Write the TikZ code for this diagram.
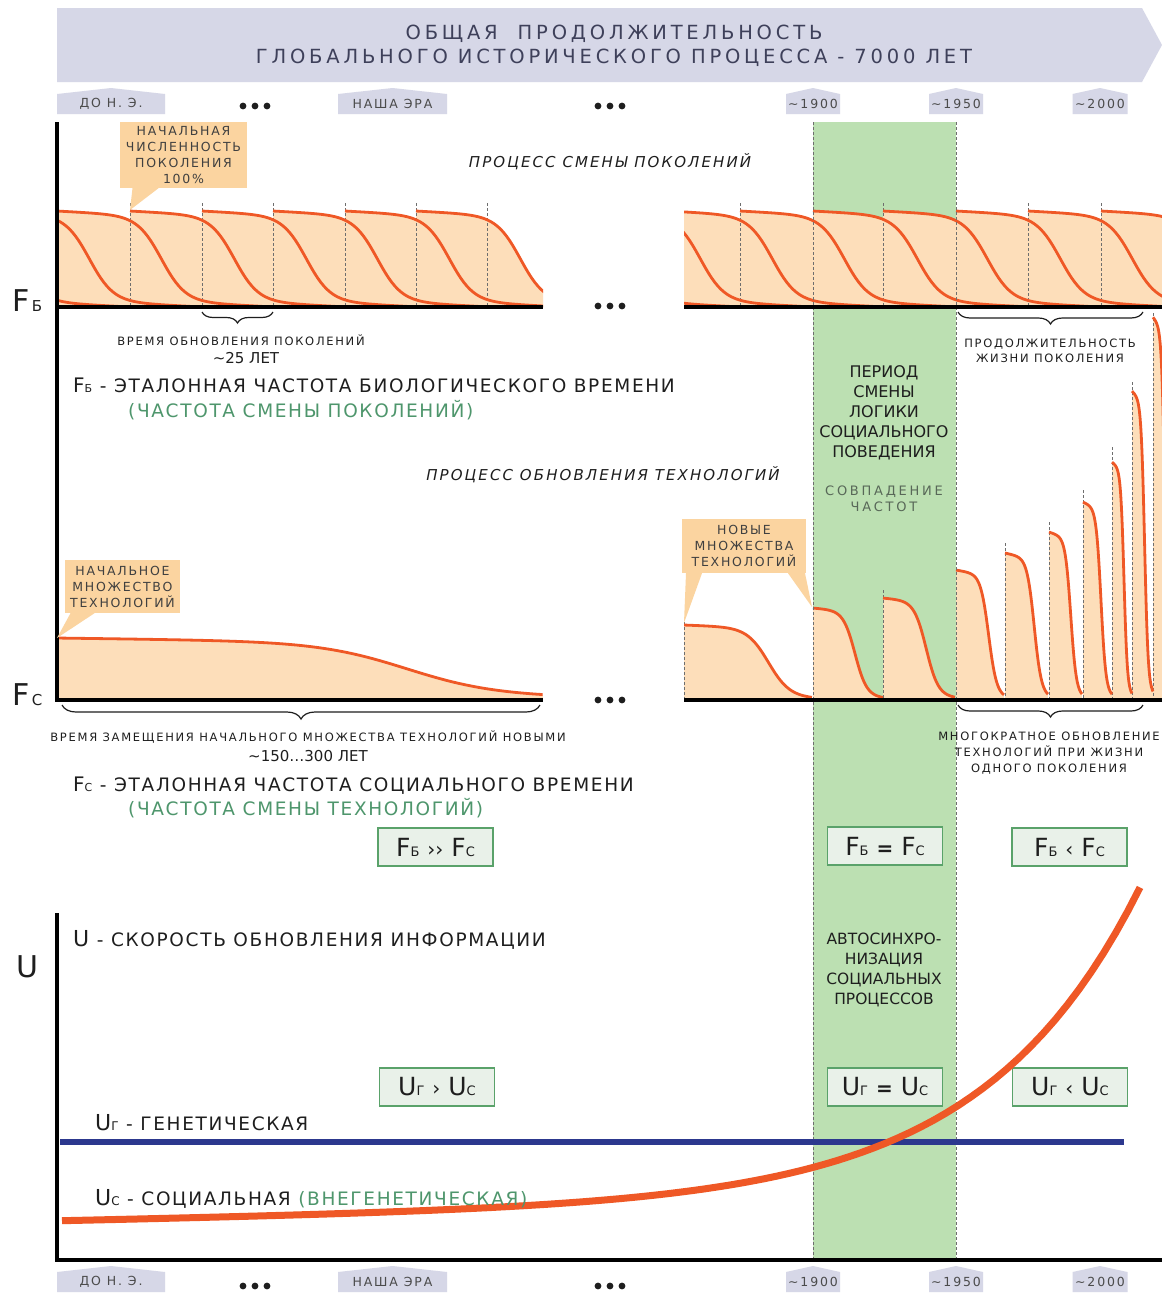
\documentclass[tikz,border=0pt]{standalone}
\usepackage{fontspec}
\setmainfont{DejaVu Sans}
\newfontfamily\banf[LetterSpace=19.5]{DejaVu Sans}
\newfontfamily\wf[LetterSpace=9]{DejaVu Sans}
\newfontfamily\smf[LetterSpace=15]{DejaVu Sans}
\newfontfamily\cf[LetterSpace=14]{DejaVu Sans}
\newfontfamily\sovf[LetterSpace=21]{DejaVu Sans}
\newfontfamily\itf[LetterSpace=14]{DejaVu Sans Oblique}
\usetikzlibrary{decorations.pathreplacing}
\definecolor{peach}{RGB}{253,222,186}
\definecolor{callout}{RGB}{251,212,160}
\definecolor{orng}{RGB}{239,88,38}
\definecolor{bandg}{RGB}{188,224,178}
\definecolor{boxg}{RGB}{233,241,233}
\definecolor{boxb}{RGB}{90,162,106}
\definecolor{gtext}{RGB}{78,150,108}
\definecolor{graytx}{RGB}{88,104,88}
\definecolor{lav}{RGB}{214,215,231}
\definecolor{navy}{RGB}{44,56,142}
\definecolor{ink}{RGB}{30,30,30}
\definecolor{bantext}{RGB}{62,64,90}
\definecolor{dashc}{RGB}{110,110,110}
\newcommand\cpath[8]{plot[domain=0:1,samples=70,variable=\u] ({#1+#2*\u},{#3+(#4-#3)*(#5*\u+#6/(1+exp(-#8*(\u-#7))))})}
\newcommand\sym[4]{{\fontsize{#3}{#3}\selectfont #1}{\fontsize{#4}{#4}\selectfont #2}}
\newcommand\rel[5]{\sym{#1}{#2}{25}{13}\hspace{8pt}{\fontsize{20}{18}\selectfont #5}\hspace{8pt}\sym{#3}{#4}{25}{13}}
\newcommand\ttag[5]{%
  \fill[lav] ({#2-#3/2},{#4+26}) -- ({#2-#3/2},{#4+6}) -- (#2,#4) -- ({#2+#3/2},{#4+6}) -- ({#2+#3/2},{#4+26}) -- cycle;
  \node[tagtxt] (#1) at (#2,{#4+16}) {#5};}
\newcommand\threedots[2]{\foreach \dd in {-12,0,12} \fill[ink] ({#1+\dd},#2) circle[radius=3.4pt];}
\tikzset{
  lbl/.style={inner sep=0pt, text=ink, align=center},
  tagtxt/.style={inner sep=0pt, text=ink!80, font=\smf\fontsize{12.5}{13}\selectfont},
  dashln/.style={draw=dashc, line width=0.8pt, dash pattern=on 3pt off 2pt},
  orngln/.style={draw=orng, line width=2.8pt},
  axisln/.style={draw=black, line width=3.2pt},
  relbox/.style={draw=boxb, fill=boxg, line width=1.4pt, minimum width=115pt, minimum height=38pt, inner sep=0pt, text=ink},
  callbox/.style={fill=callout, inner sep=0pt, align=center, text=ink!85, font=\cf\fontsize{12.5}{16}\selectfont},
  bracel/.style={decorate, decoration={brace, mirror, amplitude=#1}, draw=ink, line width=1.2pt},
  bracel/.default=10pt
}
\begin{document}
\begin{tikzpicture}[x=1pt,y=-1pt]
\useasboundingbox (0,0) rectangle (1162,1294);
\fill[white] (0,0) rectangle (1162,1294);

% banner
\fill[lav] (57,8) -- (1142,8) -- (1162,45) -- (1142,82) -- (57,82) -- cycle;
\node[lbl, text=bantext, font=\banf\fontsize{19.5}{24}\selectfont] (title) at (614,46) {ОБЩАЯ \ ПРОДОЛЖИТЕЛЬНОСТЬ\\ГЛОБАЛЬНОГО ИСТОРИЧЕСКОГО ПРОЦЕССА - 7000 ЛЕТ};

% time tags top
\ttag{tA}{111}{108}{88}{ДО Н. Э.}
\ttag{tB}{392.5}{109}{88}{НАША ЭРА}
\ttag{tC}{813}{54}{88}{\textasciitilde1900}
\ttag{tD}{956}{54}{88}{\textasciitilde1950}
\ttag{tE}{1100}{55}{88}{\textasciitilde2000}
\threedots{255}{106}
\threedots{610}{106}
% time tags bottom
\ttag{bA}{111}{108}{1266}{ДО Н. Э.}
\ttag{bB}{392.5}{109}{1266}{НАША ЭРА}
\ttag{bC}{813}{54}{1266}{\textasciitilde1900}
\ttag{bD}{956}{54}{1266}{\textasciitilde1950}
\ttag{bE}{1100}{55}{1266}{\textasciitilde2000}
\threedots{255}{1286}
\threedots{610}{1286}

% green band
\fill[bandg] (813,122) rectangle (956,1260);

% ===== generations =====
\begin{scope}
\clip (57,150) rectangle (543,309);
\foreach \xo in {-87,-15,57,130,202,273,345,416}
  \fill[peach] \cpath{\xo}{216}{211}{307}{0.12}{0.88}{0.483}{18} -- (\xo+216,307) -- (\xo,307) -- cycle;
\foreach \xo in {130,202,273,345,416,487}
  \draw[dashln] (\xo,203) -- (\xo,307);
\foreach \xo in {-87,-15,57,130,202,273,345,416}
  \draw[orngln] \cpath{\xo}{216}{211}{307}{0.12}{0.88}{0.483}{18};
\end{scope}
\begin{scope}
\clip (684,150) rectangle (1162,309);
\foreach \xo in {524,596,668,740,813,883,956,1028,1101}
  \fill[peach] \cpath{\xo}{216}{211}{307}{0.12}{0.88}{0.483}{18} -- (\xo+216,307) -- (\xo,307) -- cycle;
\foreach \xo in {740,883,1028,1101}
  \draw[dashln] (\xo,203) -- (\xo,307);
\foreach \xo in {524,596,668,740,813,883,956,1028,1101}
  \draw[orngln] \cpath{\xo}{216}{211}{307}{0.12}{0.88}{0.483}{18};
\end{scope}

% ===== technologies =====
\fill[peach] \cpath{57}{486}{638}{700}{0.1}{0.85}{0.72}{11} -- (543,700) -- (57,700) -- cycle;
\draw[orngln] \cpath{57}{486}{638}{700}{0.1}{0.85}{0.72}{11};
\begin{scope}
\clip (684,300) rectangle (1162,702);
\foreach \xo/\w/\tp/\cc in {684/128/625/0.66, 813/70/608/0.6, 883/72/598/0.6, 956/48/570/0.68, 1005/43/553/0.68, 1049/33/532/0.66, 1083/29/502/0.62, 1112/20/462/0.6, 1132/21/391/0.6, 1153/20/317/0.6}
  \fill[peach] \cpath{\xo}{\w}{\tp}{700}{0.06}{0.92}{\cc}{12} -- (\xo+\w,700) -- (\xo,700) -- cycle;
\foreach \xo/\dt in {684/622, 883/590, 1005/543, 1049/522, 1083/490, 1112/447, 1132/382, 1153/313}
  \draw[dashln] (\xo,\dt) -- (\xo,700);
\foreach \xo/\w/\tp/\cc in {684/128/625/0.66, 813/70/608/0.6, 883/72/598/0.6, 956/48/570/0.68, 1005/43/553/0.68, 1049/33/532/0.66, 1083/29/502/0.62, 1112/20/462/0.6, 1132/21/391/0.6, 1153/20/317/0.6}
  \draw[orngln] \cpath{\xo}{\w}{\tp}{700}{0.06}{0.92}{\cc}{12};
\end{scope}

% band borders
\draw[dashln] (813,122) -- (813,1260);
\draw[dashln] (956,122) -- (956,1260);

% axes
\draw[axisln] (57,122) -- (57,702);
\draw[axisln] (57,307) -- (543,307);
\draw[axisln] (684,307) -- (1162,307);
\draw[axisln] (57,700) -- (543,700);
\draw[axisln] (684,700) -- (1162,700);
\threedots{610}{306}
\threedots{610}{700}
\node[lbl, anchor=base west] (FbAx) at (12,311) {\sym{F}{\,Б}{30}{15}};
\node[lbl, anchor=base west] (FcAx) at (12,705) {\sym{F}{\,С}{30}{15}};

% callouts
\node[callbox, minimum width=127pt, minimum height=66pt] (c1) at (183.5,155) {НАЧАЛЬНАЯ\\ЧИСЛЕННОСТЬ\\ПОКОЛЕНИЯ\\100\%};
\fill[callout] ([xshift=-51pt]c1.south) -- (130,210) -- ([xshift=-25pt]c1.south) -- cycle;
\node[callbox, minimum width=115pt, minimum height=53pt] (c2) at (122.5,586.5) {НАЧАЛЬНОЕ\\МНОЖЕСТВО\\ТЕХНОЛОГИЙ};
\fill[callout] ([xshift=-52pt]c2.south) -- (57,638) -- ([xshift=-28pt]c2.south) -- cycle;
\node[callbox, minimum width=124pt, minimum height=54pt] (c3) at (744,546) {НОВЫЕ\\МНОЖЕСТВА\\ТЕХНОЛОГИЙ};
\fill[callout] ([xshift=-58pt]c3.south) -- (684,623) -- ([xshift=-42pt]c3.south) -- cycle;
\fill[callout] ([xshift=44pt]c3.south) -- (812,607) -- ([xshift=61pt]c3.south) -- cycle;

% process titles
\node[lbl, font=\itf\fontsize{15}{15}\selectfont] (proc1) at (610,162) {ПРОЦЕСС СМЕНЫ ПОКОЛЕНИЙ};
\node[lbl, font=\itf\fontsize{15}{15}\selectfont] (proc2) at (603,475) {ПРОЦЕСС ОБНОВЛЕНИЯ ТЕХНОЛОГИЙ};

% braces
\coordinate (bg1) at (202,312); \coordinate (bg2) at (273,312);
\draw[bracel=11pt] (bg1) -- (bg2);
\node[lbl, font=\smf\fontsize{11.5}{12}\selectfont] (vrem) at (241,340) {ВРЕМЯ ОБНОВЛЕНИЯ ПОКОЛЕНИЙ};
\node[lbl, font=\fontsize{15}{15}\selectfont] (y25) at (246,358) {\textasciitilde25 ЛЕТ};
\coordinate (bg3) at (958,312); \coordinate (bg4) at (1143,312);
\draw[bracel=12pt] (bg3) -- (bg4);
\node[lbl, font=\smf\fontsize{11.5}{15}\selectfont] (prod) at (1050,351) {ПРОДОЛЖИТЕЛЬНОСТЬ\\ЖИЗНИ ПОКОЛЕНИЯ};
\coordinate (bt1) at (62,705); \coordinate (bt2) at (540,705);
\draw[bracel=14pt] (bt1) -- (bt2);
\node[lbl, font=\smf\fontsize{11.5}{12}\selectfont] (zam) at (308,737) {ВРЕМЯ ЗАМЕЩЕНИЯ НАЧАЛЬНОГО МНОЖЕСТВА ТЕХНОЛОГИЙ НОВЫМИ};
\node[lbl, font=\fontsize{15}{15}\selectfont] (y150) at (308,756) {\textasciitilde150…300 ЛЕТ};
\coordinate (bt3) at (958,705); \coordinate (bt4) at (1143,705);
\draw[bracel=12pt] (bt3) -- (bt4);
\node[lbl, font=\smf\fontsize{11.5}{16}\selectfont] (mnog) at (1049,753) {МНОГОКРАТНОЕ ОБНОВЛЕНИЕ\\ТЕХНОЛОГИЙ ПРИ ЖИЗНИ\\ОДНОГО ПОКОЛЕНИЯ};

% definitions
\node[lbl, anchor=base west, font=\wf\fontsize{18.5}{18}\selectfont] (fbdef) at (73,392) {\sym{F}{Б}{20}{11} - ЭТАЛОННАЯ ЧАСТОТА БИОЛОГИЧЕСКОГО ВРЕМЕНИ};
\node[lbl, anchor=base west, text=gtext, font=\wf\fontsize{18.5}{18}\selectfont] (fbnote) at (128,417) {(ЧАСТОТА СМЕНЫ ПОКОЛЕНИЙ)};
\node[lbl, anchor=base west, font=\wf\fontsize{18.5}{18}\selectfont] (fcdef) at (73,791) {\sym{F}{С}{20}{11} - ЭТАЛОННАЯ ЧАСТОТА СОЦИАЛЬНОГО ВРЕМЕНИ};
\node[lbl, anchor=base west, text=gtext, font=\wf\fontsize{18.5}{18}\selectfont] (fcnote) at (128,815) {(ЧАСТОТА СМЕНЫ ТЕХНОЛОГИЙ)};

% band texts
\node[lbl, font=\fontsize{16}{20}\selectfont] (period) at (884,413) {ПЕРИОД\\СМЕНЫ\\ЛОГИКИ\\СОЦИАЛЬНОГО\\ПОВЕДЕНИЯ};
\node[lbl, text=graytx, font=\sovf\fontsize{13}{16}\selectfont] (sovp) at (884,499) {СОВПАДЕНИЕ\\ЧАСТОТ};
\node[lbl, font=\fontsize{15.5}{20}\selectfont] (avto) at (884,970) {АВТОСИНХРО-\\НИЗАЦИЯ\\СОЦИАЛЬНЫХ\\ПРОЦЕССОВ};

% relation boxes
\node[relbox] (r1) at (435.5,847) {\rel{F}{Б}{F}{С}{››}};
\node[relbox] (r2) at (885,846) {\rel{F}{Б}{F}{С}{\bfseries =}};
\node[relbox] (r3) at (1069.5,847) {\rel{F}{Б}{F}{С}{‹}};
\node[relbox] (r4) at (437,1087) {\rel{U}{Г}{U}{С}{›}};
\node[relbox] (r5) at (885,1087) {\rel{U}{Г}{U}{С}{\bfseries =}};
\node[relbox] (r6) at (1070,1087) {\rel{U}{Г}{U}{С}{‹}};

% ===== U section =====
\draw[axisln] (57,913) -- (57,1262);
\draw[axisln] (57,1260) -- (1162,1260);
\node[lbl, anchor=base west] (UAx) at (16,977) {\fontsize{30}{30}\selectfont U};
\node[lbl, anchor=base west, font=\wf\fontsize{18.5}{18}\selectfont] (udef) at (73,946) {{\fontsize{22}{22}\selectfont U} - СКОРОСТЬ ОБНОВЛЕНИЯ ИНФОРМАЦИИ};
\draw[draw=navy, line width=6pt] (60,1142) -- (1124,1142);
\draw[draw=orng, line width=7pt] plot[domain=62:1140, samples=90] (\x, {1221-0.02*(\x-62)-312*exp(0.0064*(\x-1140))});
\node[lbl, anchor=base west, font=\wf\fontsize{18.5}{18}\selectfont] (ug) at (95,1130) {\sym{U}{Г}{22}{12} - ГЕНЕТИЧЕСКАЯ};
\node[lbl, anchor=base west, font=\wf\fontsize{18.5}{18}\selectfont] (uc) at (95,1205) {\sym{U}{С}{22}{12} - СОЦИАЛЬНАЯ \textcolor{gtext}{(ВНЕГЕНЕТИЧЕСКАЯ)}};
\end{tikzpicture}
\end{document}
